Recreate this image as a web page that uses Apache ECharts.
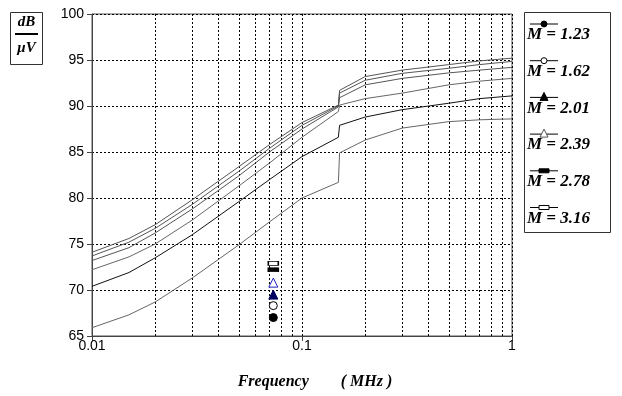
<!DOCTYPE html>
<html>
<head>
<meta charset="utf-8">
<script src="https://cdn.jsdelivr.net/npm/echarts@6/dist/echarts.min.js"></script>
<style>
  html, body {margin: 0; padding: 0; background: #fff;}
  #chart {width: 622px; height: 396px;}
</style>
</head>
<body>
<div id="chart"></div>
<script>
// frequency points (MHz)
const freq = [0.01, 0.015, 0.02, 0.03, 0.05, 0.07, 0.1, 0.149, 0.151, 0.2, 0.3, 0.5, 0.7, 1]

// dB/uV for each M
const m123 = [65.9, 67.3, 68.7, 71.3, 74.9, 77.4, 80.0, 81.7, 84.9, 86.3, 87.6, 88.3, 88.5, 88.6]
const m162 = [70.4, 71.9, 73.5, 76.0, 79.6, 82.0, 84.5, 86.6, 87.9, 88.8, 89.6, 90.3, 90.8, 91.1]
const m201 = [72.2, 73.6, 75.0, 77.6, 81.3, 83.8, 86.6, 89.4, 90.1, 90.8, 91.4, 92.3, 92.7, 93.0]
const m239 = [73.2, 74.6, 76.2, 78.8, 82.4, 85.0, 87.5, 89.9, 90.9, 92.3, 93.0, 93.6, 93.9, 94.2]
const m278 = [73.7, 75.2, 76.7, 79.3, 82.9, 85.4, 87.9, 90.0, 91.4, 92.8, 93.55, 94.1, 94.5, 94.85]
const m316 = [74.1, 75.6, 77.1, 79.8, 83.4, 85.8, 88.2, 90.1, 91.7, 93.2, 93.9, 94.5, 94.9, 95.2]

const labels = ['M = 1.23', 'M = 1.62', 'M = 2.01', 'M = 2.39', 'M = 2.78', 'M = 3.16']

// the column of single markers near 0.073 MHz
const markerX = [0.073, 0.073, 0.073, 0.073, 0.073, 0.073]
const markerY = [67.0, 68.3, 69.5, 70.8, 72.2, 72.9]

// minor vertical grid lines
const minorGrid = [0.02, 0.03, 0.04, 0.05, 0.06, 0.07, 0.08, 0.09, 0.2, 0.3, 0.4, 0.5, 0.6, 0.7, 0.8, 0.9]

const yTicks = [65, 70, 75, 80, 85, 90, 95, 100]

const curves = [m123, m162, m201, m239, m278, m316]
const lineColors = ['#666', '#111', '#666', '#555', '#555', '#555']

// marker styles per M
const symbols = [
  {symbol: 'circle', size: 8, fill: '#000', stroke: '#000'},
  {symbol: 'circle', size: 8, fill: '#fff', stroke: '#000'},
  {symbol: 'triangle', size: 9, fill: '#000060', stroke: '#000060'},
  {symbol: 'triangle', size: 9, fill: '#fff', stroke: '#2020c0'},
  {symbol: 'rect', size: [10, 4], fill: '#000', stroke: '#000'},
  {symbol: 'rect', size: [10, 4], fill: '#fff', stroke: '#000'},
]

const serif = 'Liberation Serif'
const sans = 'Liberation Sans'
const dots = [2, 2]

const chart = echarts.init(document.getElementById('chart'), null, {renderer: 'canvas'})

let series = curves.map((vals, i) => ({
  name: labels[i],
  type: 'line',
  data: freq.map((f, k) => [f, vals[k]]),
  symbol: 'none',
  silent: true,
  lineStyle: {color: lineColors[i], width: 1},
  z: 3,
}))

// minor grid lines drawn through the x axis scale
series[0].markLine = {
  silent: true,
  symbol: 'none',
  label: {show: false},
  lineStyle: {color: '#000', width: 1, type: dots},
  data: minorGrid.map(v => ({xAxis: v})),
  z: 1,
}

symbols.forEach((s, i) => {
  series.push({
    type: 'scatter',
    data: [[markerX[i], markerY[i]]],
    symbol: s.symbol,
    symbolSize: s.size,
    silent: true,
    itemStyle: {color: s.fill, borderColor: s.stroke, borderWidth: 1, opacity: 1},
    z: 5,
  })
})

// legend box on the right
let legendItems = [
  {type: 'rect', shape: {x: 524.5, y: 12.5, width: 86, height: 220},
   style: {fill: '#fff', stroke: '#333', lineWidth: 1}},
]
labels.forEach((lab, i) => {
  const y0 = 24 + i * 36.7
  const s = symbols[i]
  legendItems.push({type: 'line', shape: {x1: 530, y1: y0, x2: 558, y2: y0},
    style: {stroke: '#000', lineWidth: 1}})
  const w = Array.isArray(s.size) ? s.size[0] : s.size - 1
  const h = Array.isArray(s.size) ? s.size[1] : s.size - 1
  if (s.symbol === 'circle') {
    legendItems.push({type: 'circle', shape: {cx: 544, cy: y0, r: w / 2 - 0.5},
      style: {fill: s.fill, stroke: '#000', lineWidth: 1}})
  } else if (s.symbol === 'triangle') {
    legendItems.push({type: 'polygon', shape: {points: [[544, y0 - h / 2 - 1], [544 - w / 2, y0 + h / 2 - 1], [544 + w / 2, y0 + h / 2 - 1]]},
      style: {fill: s.fill === '#fff' ? '#fff' : '#000', stroke: s.fill === '#fff' ? '#555' : '#000', lineWidth: 1}})
  } else {
    legendItems.push({type: 'rect', shape: {x: 544 - w / 2, y: y0 - h / 2, width: w, height: h},
      style: {fill: s.fill, stroke: '#000', lineWidth: 1}})
  }
  legendItems.push({type: 'text', x: 527, y: y0 + 11,
    style: {text: lab, fill: '#000', font: 'italic bold 17px "' + serif + '"', textVerticalAlign: 'middle'}})
})

// unit box on the left
const unitBox = [
  {type: 'rect', shape: {x: 10.5, y: 12.5, width: 32, height: 52},
   style: {fill: '#fff', stroke: '#333', lineWidth: 1}},
  {type: 'text', x: 26.5, y: 22, style: {text: 'dB', fill: '#000', font: 'italic bold 15px "' + serif + '"', textAlign: 'center', textVerticalAlign: 'middle'}},
  {type: 'line', shape: {x1: 15, y1: 34, x2: 38, y2: 34}, style: {stroke: '#000', lineWidth: 2}},
  {type: 'text', x: 26.5, y: 48, style: {text: 'μV', fill: '#000', font: 'italic bold 15px "' + serif + '"', textAlign: 'center', textVerticalAlign: 'middle'}},
]

chart.setOption({
  animation: false,
  backgroundColor: '#fff',
  grid: {left: 92, right: 110, top: 14, bottom: 60, show: true, borderColor: '#555', borderWidth: 1, backgroundColor: 'transparent'},
  xAxis: {
    type: 'log',
    logBase: 10,
    min: 0.01,
    max: 1,
    name: 'Frequency        ( MHz )',
    nameLocation: 'middle',
    nameGap: 38,
    nameTextStyle: {fontFamily: serif, fontStyle: 'italic', fontWeight: 'bold', fontSize: 16, color: '#000', padding: [0, 0, 0, 26]},
    axisLine: {show: true, lineStyle: {color: '#444', width: 1}},
    axisTick: {show: true, inside: false, length: 5, lineStyle: {color: '#444'}},
    axisLabel: {fontFamily: sans, fontSize: 14, color: '#000', margin: 3,
      formatter: v => String(Number(v.toPrecision(3)))},
    splitLine: {show: true, lineStyle: {color: '#000', width: 1, type: dots}},
  },
  yAxis: {
    type: 'value',
    min: yTicks[0],
    max: yTicks[yTicks.length - 1],
    interval: 5,
    axisLine: {show: true, lineStyle: {color: '#444', width: 1}},
    axisTick: {show: true, inside: false, length: 5, lineStyle: {color: '#444'}},
    axisLabel: {fontFamily: sans, fontSize: 14, color: '#000', margin: 8},
    splitLine: {show: true, lineStyle: {color: '#000', width: 1, type: dots}},
  },
  series: series,
  graphic: unitBox.concat(legendItems),
})
</script>
</body>
</html>
